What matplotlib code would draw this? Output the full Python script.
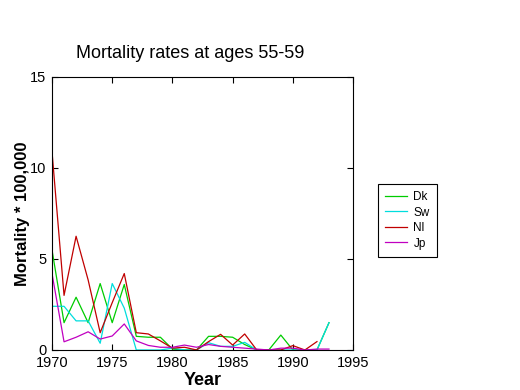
import numpy as np
import matplotlib
matplotlib.use("Agg")
import matplotlib.pyplot as plt

plt.rcParams['font.family'] = ['Liberation Sans', 'DejaVu Sans']

# Mortality * 100,000 per year
years = list(range(1970, 1994))
dk = [5.5, 1.5, 2.9, 1.5, 3.65, 1.5, 3.6, 0.75, 0.7, 0.7, 0.05, 0.0,
      0.0, 0.75, 0.75, 0.7, 0.3, 0.0, 0.0, 0.82, 0.0, 0.0, 0.0, 1.5]
sw = [2.4, 2.4, 1.6, 1.6, 0.37, 3.65, 2.3, 0.0, 0.0, 0.0, 0.1, 0.0,
      0.0, 0.4, 0.2, 0.2, 0.42, 0.0, 0.0, 0.0, 0.0, 0.0, 0.0, 1.5]
nl = [10.9, 3.0, 6.25, 3.85, 0.95, 2.6, 4.2, 0.95, 0.88, 0.5, 0.1, 0.15,
      0.0, 0.46, 0.86, 0.27, 0.88, 0.0, 0.0, 0.0, 0.24, 0.0, 0.46, np.nan]
jp = [4.2, 0.45, 0.7, 1.0, 0.6, 0.77, 1.43, 0.5, 0.25, 0.15, 0.15, 0.27,
      0.15, 0.3, 0.2, 0.15, 0.1, 0.05, 0.0, 0.1, 0.1, 0.0, 0.05, 0.05]

labels = ['Dk', 'Sw', 'Nl', 'Jp']
colors = ['#00cc00', '#00dddd', '#c00000', '#c000c0']

fig = plt.figure(figsize=(5.2, 3.9), dpi=100)
ax = fig.add_axes([0.1, 0.1026, 0.579, 0.70])

for series, lab, col in zip([dk, sw, nl, jp], labels, colors):
    ax.plot(years, series, color=col, lw=0.9, label=lab)

ax.set_xlim(1970, 1995)
ax.set_ylim(0, 15)
ax.set_xticks([1970, 1975, 1980, 1985, 1990, 1995])
ax.set_yticks([0, 5, 10, 15])
ax.tick_params(direction='in', top=True, right=True, length=4, labelsize=10.5, pad=4)
for s in ax.spines.values():
    s.set_linewidth(0.8)

# title sits a little left of the axes centre in the original
fig.text(190 / 520, 1 - 54 / 390, 'Mortality rates at ages 55-59', fontsize=13,
         ha='center', va='center')
ax.set_xlabel('Year', fontsize=13, fontweight='bold', labelpad=2)
ax.set_ylabel('Mortality * 100,000', fontsize=12, fontweight='bold')
ax.yaxis.set_label_coords(-0.073, 0.5)

leg = ax.legend(loc='upper left', bbox_to_anchor=(1.063, 0.63), fancybox=False,
                edgecolor='black', fontsize=8.5, handlelength=1.9, borderpad=0.6,
                labelspacing=0.3, handletextpad=0.5, framealpha=1)
leg.get_frame().set_linewidth(0.8)

fig.savefig('out.png', dpi=100)
